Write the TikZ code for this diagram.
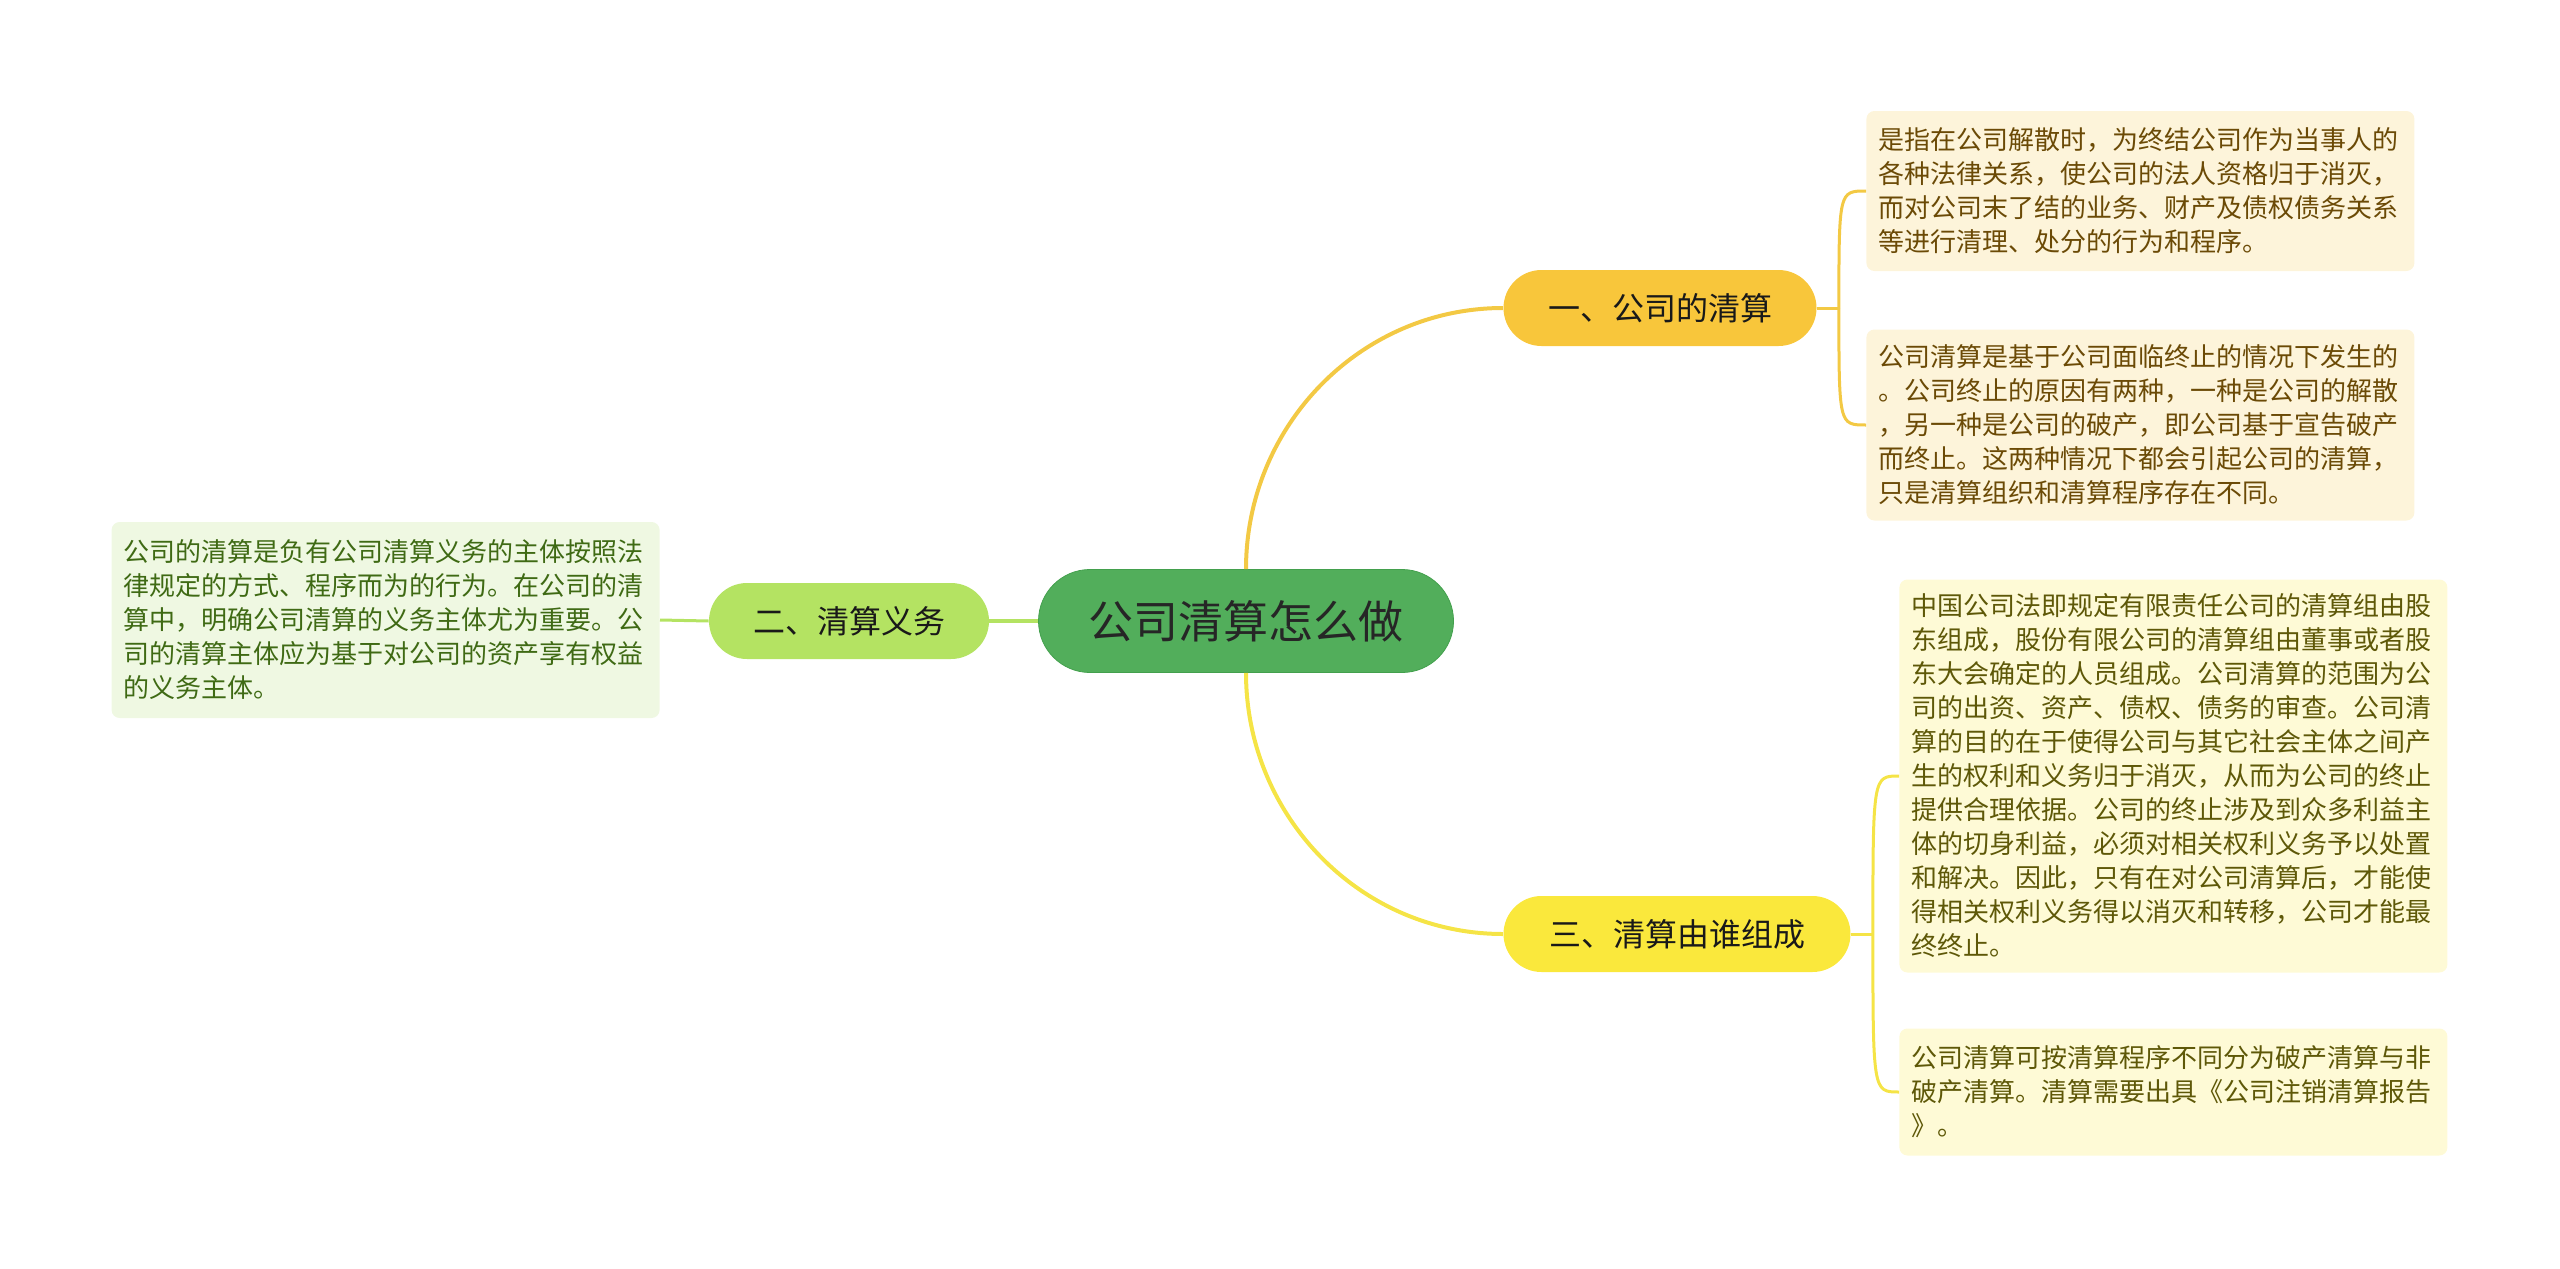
\documentclass[tikz,border=0pt]{standalone}
\usepackage{fontspec}
\setmainfont{Noto Sans CJK SC}
\usepackage{tikz}
\usetikzlibrary{calc, positioning}

\definecolor{rootgreen}{HTML}{52AE5B}
\definecolor{rootedge}{HTML}{43A04D}
\definecolor{onefill}{HTML}{F8C63B}
\definecolor{twofill}{HTML}{B4E362}
\definecolor{threefill}{HTML}{FAE83C}
\definecolor{oneline}{HTML}{F3C944}
\definecolor{twoline}{HTML}{B4E362}
\definecolor{threeline}{HTML}{F5E446}
\definecolor{oneleaf}{HTML}{FDF4DA}
\definecolor{twoleaf}{HTML}{EFF8E2}
\definecolor{threeleaf}{HTML}{FEFAD6}
\definecolor{onetext}{HTML}{6B4A06}
\definecolor{twotext}{HTML}{3F6A14}
\definecolor{threetext}{HTML}{5E5808}

\tikzset{
    rootnode/.style={draw=rootedge, fill=rootgreen, rounded corners=25.75pt, minimum width=207.5pt, minimum height=51.5pt, font=\fontsize{22.5}{26}\selectfont, text=black!85},
    branch/.style={rounded corners=19pt, minimum height=38pt, font=\fontsize{16}{19}\selectfont, text=black!90},
    leaf/.style={rounded corners=4pt, align=left, text width=262pt, inner xsep=6pt, font=\fontsize{13}{17}\selectfont},
    link/.style={line width=2pt},
    twig/.style={line width=1.5pt}
}

\begin{document}
\begin{tikzpicture}[x=0.5pt, y=-0.5pt]
                \useasboundingbox (0,0) rectangle (2560,1269);
                
                \node[rootnode] (root) at (1246,621) {公司清算怎么做};
                
                \node[branch, fill=onefill, minimum width=156.5pt] (one) at (1660,308) {一、公司的清算};
                \node[branch, fill=twofill, minimum width=140pt] (two) at (849,621) {二、清算义务};
                \node[branch, fill=threefill, minimum width=173.5pt] (three) at (1677,934) {三、清算由谁组成};
                
                \node[leaf, fill=oneleaf, text=onetext, minimum height=80pt, anchor=west] (one-a) at (1866,191) {是指在公司解散时，为终结公司作为当事人的\\各种法律关系，使公司的法人资格归于消灭，\\而对公司末了结的业务、财产及债权债务关系\\等进行清理、处分的行为和程序。};
                \node[leaf, fill=oneleaf, text=onetext, minimum height=95.5pt, anchor=west] (one-b) at (1866,425) {公司清算是基于公司面临终止的情况下发生的\\。公司终止的原因有两种，一种是公司的解散\\，另一种是公司的破产，即公司基于宣告破产\\而终止。这两种情况下都会引起公司的清算，\\只是清算组织和清算程序存在不同。};
                \node[leaf, fill=twoleaf, text=twotext, minimum height=98pt, anchor=east] (two-a) at (660,620) {公司的清算是负有公司清算义务的主体按照法\\律规定的方式、程序而为的行为。在公司的清\\算中，明确公司清算的义务主体尤为重要。公\\司的清算主体应为基于对公司的资产享有权益\\的义务主体。};
                \node[leaf, fill=threeleaf, text=threetext, minimum height=196.5pt, anchor=west] (three-a) at (1899,776) {中国公司法即规定有限责任公司的清算组由股\\东组成，股份有限公司的清算组由董事或者股\\东大会确定的人员组成。公司清算的范围为公\\司的出资、资产、债权、债务的审查。公司清\\算的目的在于使得公司与其它社会主体之间产\\生的权利和义务归于消灭，从而为公司的终止\\提供合理依据。公司的终止涉及到众多利益主\\体的切身利益，必须对相关权利义务予以处置\\和解决。因此，只有在对公司清算后，才能使\\得相关权利义务得以消灭和转移，公司才能最\\终终止。};
                \node[leaf, fill=threeleaf, text=threetext, minimum height=63.5pt, anchor=west] (three-b) at (1899,1092) {公司清算可按清算程序不同分为破产清算与非\\破产清算。清算需要出具《公司注销清算报告\\》。};
                
                \draw[link, oneline] (root.north) to[out=90, in=180] (one.west);
                \draw[link, threeline] (root.south) to[out=-90, in=180] (three.west);
                \draw[link, twoline] (root.west) -- (two.east);
                \draw[twig, twoline] (two.west) -- (two-a.east);
                
                \coordinate (one-fork) at ($(one.east)+(22,0)$);
                \coordinate (three-fork) at ($(three.east)+(22,0)$);
                \draw[twig, oneline] (one.east) -- (one-fork);
                \draw[twig, threeline] (three.east) -- (three-fork);
                \foreach \j in {a,b}
                    \draw[twig, oneline] (one-fork) .. controls (one-fork |- one-\j.west) .. (one-\j.west);
                \foreach \j in {a,b}
                    \draw[twig, threeline] (three-fork) .. controls (three-fork |- three-\j.west) .. (three-\j.west);
\end{tikzpicture}
\end{document}
